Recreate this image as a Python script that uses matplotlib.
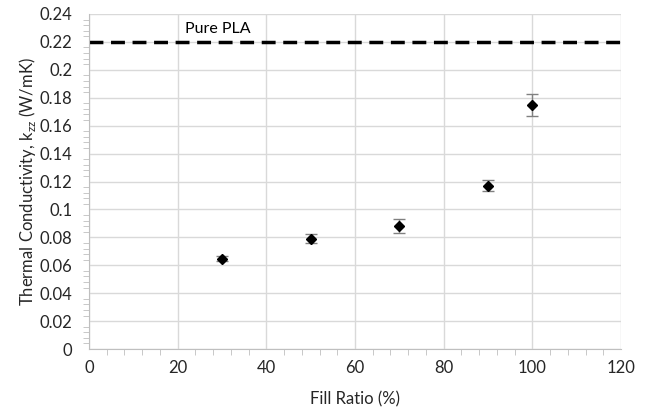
import matplotlib
matplotlib.use('Agg')
import matplotlib.pyplot as plt
from matplotlib.ticker import MultipleLocator

plt.rcParams['font.family'] = ['Lato', 'DejaVu Sans']

fill = [30, 50, 70, 90, 100]
k_zz = [0.0645, 0.079, 0.088, 0.117, 0.175]
k_err = [0.0018, 0.0033, 0.0048, 0.004, 0.008]
pure_pla = 0.22

fig = plt.figure(figsize=(6.46, 4.16), dpi=100)
ax = fig.add_axes([89/646, 1 - 349/416, (621-89)/646, (349-14)/416])

ax.errorbar(fill, k_zz, yerr=k_err, fmt='D', color='black', markersize=5.5,
            ecolor='#808080', elinewidth=1, capsize=4, capthick=1, zorder=3)
ax.axhline(pure_pla, color='black', linestyle=(0, (4, 2.2)), linewidth=2.5, zorder=2)
ax.text(29, 0.2295, 'Pure PLA', ha='center', va='center', fontsize=11.5)

ax.set_xlim(0, 120)
ax.set_ylim(0, 0.24)
ax.xaxis.set_major_locator(MultipleLocator(20))
ax.xaxis.set_minor_locator(MultipleLocator(4))
ax.yaxis.set_minor_locator(MultipleLocator(0.004))
ax.set_yticks([i * 0.02 for i in range(13)])
ax.set_yticklabels(['0', '0.02', '0.04', '0.06', '0.08', '0.1', '0.12', '0.14',
                    '0.16', '0.18', '0.2', '0.22', '0.24'])

ax.grid(True, which='major', color='#d9d9d9', linewidth=1)
ax.set_axisbelow(True)
for s in ['top', 'right']:
    ax.spines[s].set_visible(False)
for s in ['left', 'bottom']:
    ax.spines[s].set_color('#bfbfbf')
ax.tick_params(which='major', length=0, labelsize=12, colors='#262626')
ax.tick_params(which='minor', length=4, color='#bfbfbf')
ax.tick_params(axis='y', which='major', pad=12)
ax.tick_params(axis='x', which='major', pad=8)

ax.set_xlabel('Fill Ratio (%)', fontsize=12, color='#262626', labelpad=11)
ax.set_ylabel(r'Thermal Conductivity, k$_\mathregular{zz}$ (W/mK)', fontsize=12,
              color='#262626', labelpad=1)

fig.savefig('out.png', dpi=100)
